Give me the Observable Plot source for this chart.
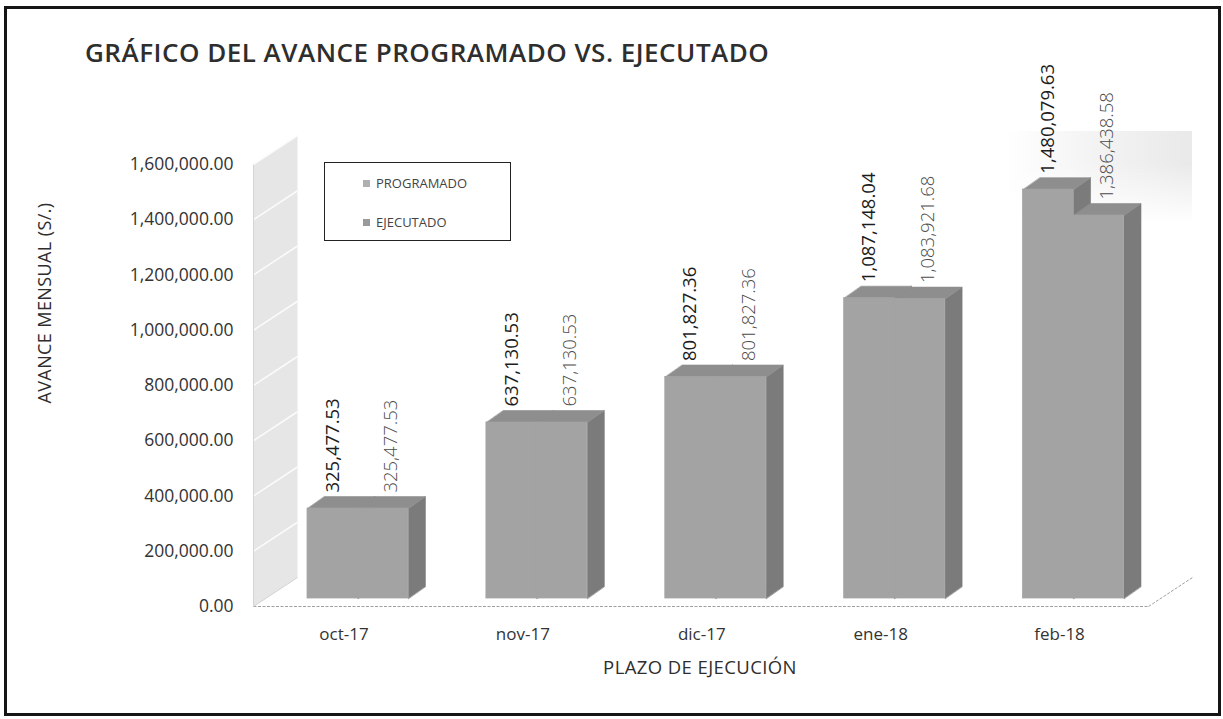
<!DOCTYPE html>
<html>
<head>
<meta charset="utf-8">
<script src="https://cdn.jsdelivr.net/npm/d3@7"></script>
<script src="https://cdn.jsdelivr.net/npm/@observablehq/plot@0.6"></script>
<style>
  html, body { margin: 0; padding: 0; background: #fff; }
  body { width: 1223px; height: 719px; position: relative; overflow: hidden; font-family: "Open Sans", sans-serif; }
  .abs { position: absolute; white-space: nowrap; }
  #frame { left: 4px; top: 6px; width: 1217px; height: 710px; border: 3px solid #151515; box-sizing: border-box; }
  #title { left: 85px; top: 39px; font-size: 26px; line-height: 26px; font-weight: 600; color: #2e2e2e; letter-spacing: 0.5px; }
  #ytitle { left: 44px; top: 303px; font-size: 18px; color: #2e2e2e; letter-spacing: 0.4px; transform: translate(-50%, -50%) rotate(-90deg); }
  #xtitle { left: 700px; top: 666px; font-size: 18.5px; color: #2e2e2e; letter-spacing: 0.4px; transform: translate(-50%, -50%); }
  #legend { left: 324px; top: 162px; width: 187px; height: 79px; border: 1.5px solid #222; box-sizing: border-box; background: #fff; }
  .lg { font-size: 13px; color: #444; display: flex; align-items: center; }
  .sw { width: 7px; height: 7px; margin-right: 6px; }
  #glow { left: 1005px; top: 131px; width: 187px; height: 92px;
    background: linear-gradient(to bottom, rgba(255,255,255,0) 35%, #fff 100%), linear-gradient(to right, #fff 0%, #f4f4f4 45%, #e9e9e9 100%); }
  #chart { position: absolute; left: 0; top: 0; }
</style>
</head>
<body>
<div id="glow" class="abs"></div>
<div id="chart"></div>
<div id="frame" class="abs"></div>
<div id="title" class="abs">GRÁFICO DEL AVANCE PROGRAMADO VS. EJECUTADO</div>
<div id="ytitle" class="abs">AVANCE MENSUAL (S/.)</div>
<div id="xtitle" class="abs">PLAZO DE EJECUCIÓN</div>
<div id="legend" class="abs"></div>
<script>
// ---- data ----
const categories = ["oct-17", "nov-17", "dic-17", "ene-18", "feb-18"];
const programado = [325477.53, 637130.53, 801827.36, 1087148.04, 1480079.63];
const ejecutado  = [325477.53, 637130.53, 801827.36, 1083921.68, 1386438.58];
const seriesNames = ["PROGRAMADO", "EJECUTADO"];
const yTicks = [0, 200000, 400000, 600000, 800000, 1000000, 1200000, 1400000, 1600000];

// ---- geometry / style ----
const W = 1223, H = 719;
const mL = 253, mR = 75, mT = 164, mB = 113;
const xDomain = [-0.584, 4.419];
const yDomain = [0, 1600000];
const pxPerX = (W - mL - mR) / (xDomain[1] - xDomain[0]);
const valPerPx = (yDomain[1] - yDomain[0]) / (H - mT - mB);
const barW = 0.282;                  // width of each bar (index units)
const depX = 17 / pxPerX, depV = 12 * valPerPx;   // bar depth
const wallX = 44 / pxPerX, wallV = 29 * valPerPx; // wall / floor depth
const lift = -8;                     // bars sit slightly back on the floor
const fmt = d3.format(",.2f");

const faces = [
  {front: "#a3a3a3", top: "#8e8e8e", side: "#7b7b7b"},
  {front: "#a3a3a3", top: "#8e8e8e", side: "#7b7b7b"}
];

const series = [programado, ejecutado];
const rows = [];
series.forEach((vals, s) => vals.forEach((v, i) => {
  const x1 = i - barW + s * barW;
  rows.push({s, i, x1, x2: x1 + barW, v, cat: categories[i]});
}));

function topPoly(r) {
  return [[r.x1, r.v], [r.x2, r.v], [r.x2 + depX, r.v + depV], [r.x1 + depX, r.v + depV]]
    .map(([x, y]) => ({x, y, id: r.s + "-" + r.i}));
}
function sidePoly(r) {
  return [[r.x2, 0], [r.x2, r.v], [r.x2 + depX, r.v + depV], [r.x2 + depX, depV]]
    .map(([x, y]) => ({x, y, id: r.s + "-" + r.i}));
}

const x0 = xDomain[0], xEnd = xDomain[1];
const wall = [[x0, 0], [x0, yDomain[1]], [x0 + wallX, yDomain[1] + wallV], [x0 + wallX, wallV]]
  .map(([x, y]) => ({x, y}));

const barMarks = [];
[0, 1].forEach(s => {
  const rs = rows.filter(r => r.s === s);
  const f = faces[s];
  barMarks.push(
    Plot.line(rs.flatMap(sidePoly), {x: "x", y: "y", z: "id", curve: "linear-closed", fill: f.side, stroke: f.side, strokeWidth: 0.6, dy: lift}),
    Plot.line(rs.flatMap(topPoly), {x: "x", y: "y", z: "id", curve: "linear-closed", fill: f.top, stroke: f.top, strokeWidth: 0.6, dy: lift}),
    Plot.rect(rs, {x1: "x1", x2: "x2", y1: 0, y2: "v", fill: f.front, stroke: f.front, strokeWidth: 0.8, dy: lift})
  );
});

const labelOff = 24 * valPerPx;
const chart = Plot.plot({
  width: W, height: H,
  marginLeft: mL, marginRight: mR, marginTop: mT, marginBottom: mB,
  x: {domain: xDomain, axis: null},
  y: {domain: yDomain, axis: null},
  style: {fontFamily: "Open Sans, sans-serif", background: "transparent", overflow: "visible"},
  marks: [
    Plot.line(wall, {x: "x", y: "y", curve: "linear-closed", fill: "#e6e6e6", stroke: "none"}),
    Plot.link(yTicks.slice(1), {x1: x0, y1: d => d, x2: x0 + wallX, y2: d => d + wallV, stroke: "#fbfbfb", strokeWidth: 1.5}),
    Plot.link([0], {x1: x0, y1: 0, x2: x0, y2: yDomain[1], stroke: "#d4d4d4", strokeWidth: 1}),
    Plot.link([0], {x1: x0, y1: 0, x2: xEnd, y2: 0, stroke: "#a0a0a0", strokeWidth: 1, strokeDasharray: "3,1.5"}),
    Plot.link([0], {x1: xEnd, y1: 0, x2: xEnd + wallX, y2: wallV, stroke: "#a0a0a0", strokeWidth: 1, strokeDasharray: "3,1.5"}),
    Plot.link([0], {x1: x0, y1: 0, x2: x0 + wallX, y2: wallV, stroke: "#d4d4d4", strokeWidth: 1}),
    Plot.axisY({ticks: yTicks, tickFormat: fmt, tickSize: 0, tickPadding: 20, fontSize: 17.5, fill: "#333", label: null}),
    Plot.axisX({ticks: [0, 1, 2, 3, 4], tickFormat: i => categories[i], tickSize: 0, tickPadding: 21, dx: -14, fontSize: 17, fill: "#333", label: null}),
    ...barMarks,
    Plot.text(rows.filter(r => r.s === 0), {x: r => (r.x1 + r.x2) / 2, y: r => r.v + labelOff, text: r => fmt(r.v),
      rotate: -90, textAnchor: "start", lineAnchor: "middle", fontSize: 18.5, fill: "#1c1c1c", fontWeight: 500}),
    Plot.text(rows.filter(r => r.s === 1), {x: r => (r.x1 + r.x2) / 2 + 8 / pxPerX, y: r => r.v + labelOff, text: r => fmt(r.v),
      rotate: -90, textAnchor: "start", lineAnchor: "middle", fontSize: 18.5, fill: "#4a4a4a", fontWeight: 300})
  ]
});
document.getElementById("chart").appendChild(chart);

// legend
const lg = document.getElementById("legend");
seriesNames.forEach((name, s) => {
  const item = document.createElement("div");
  item.className = "lg abs";
  item.style.left = "38px";
  item.style.top = (s === 0 ? 11 : 50) + "px";
  item.style.height = "18px";
  item.innerHTML = `<span class="sw" style="background:${s === 0 ? "#b0b0b0" : "#9a9a9a"}"></span>${name}`;
  lg.appendChild(item);
});
</script>
</body>
</html>
